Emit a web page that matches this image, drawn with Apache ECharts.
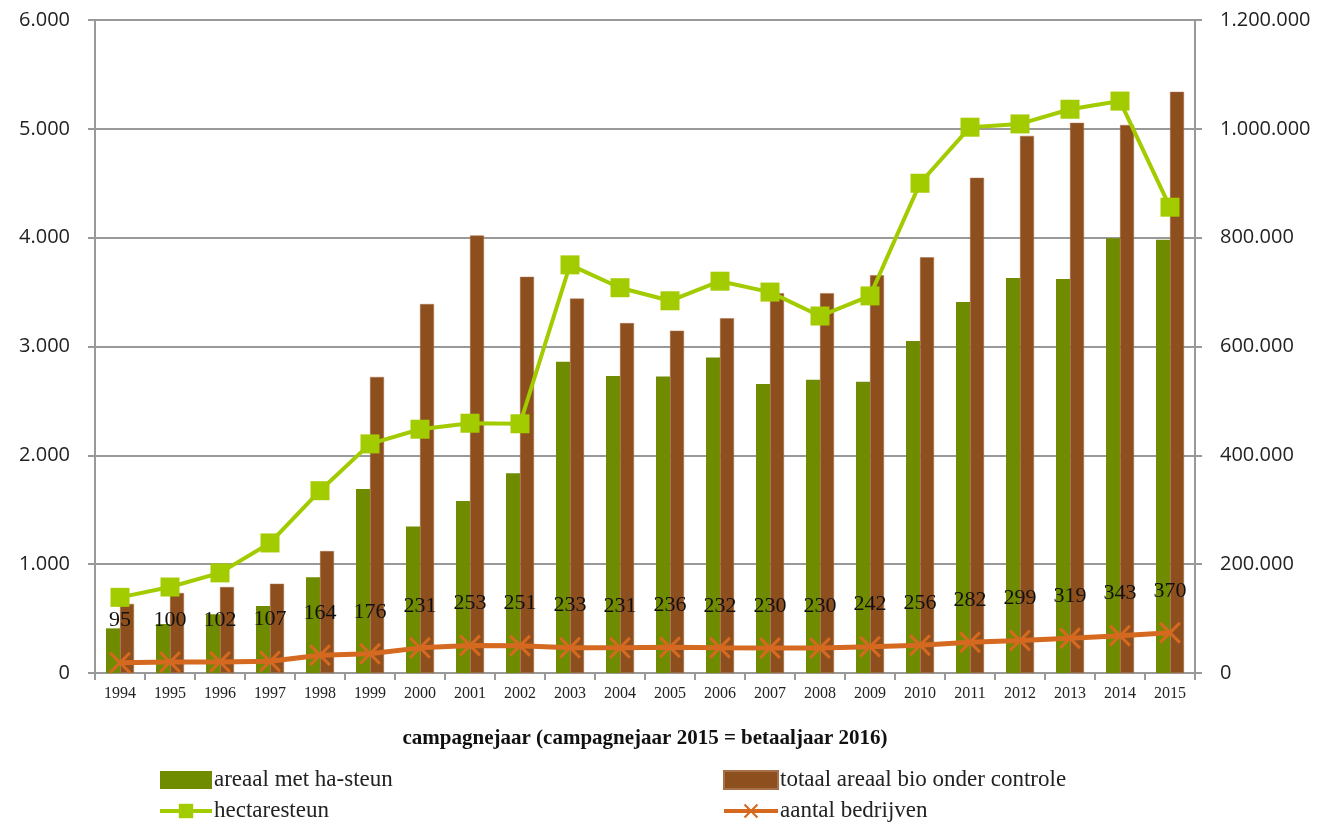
<!DOCTYPE html>
<html>
<head>
<meta charset="utf-8">
<script src="https://cdn.jsdelivr.net/npm/echarts@6/dist/echarts.min.js"></script>
<style>
  html, body { margin: 0; padding: 0; background: #fff; }
  #chart { width: 1341px; height: 826px; }
</style>
</head>
<body>
<div id="chart"></div>
<script>
// campagnejaren
const years = ['1994', '1995', '1996', '1997', '1998', '1999', '2000', '2001', '2002', '2003', '2004',
  '2005', '2006', '2007', '2008', '2009', '2010', '2011', '2012', '2013', '2014', '2015']

// ha, linker as
const areaalHaSteun = [410, 450, 540, 615, 880, 1690, 1345, 1580, 1835, 2860, 2730,
  2725, 2900, 2655, 2695, 2675, 3050, 3410, 3630, 3620, 3995, 3980]
const totaalAreaalBio = [635, 735, 790, 820, 1120, 2720, 3390, 4020, 3640, 3440, 3215,
  3145, 3260, 3490, 3490, 3655, 3820, 4550, 4935, 5055, 5035, 5340]
const aantalBedrijven = [95, 100, 102, 107, 164, 176, 231, 253, 251, 233, 231,
  236, 232, 230, 230, 242, 256, 282, 299, 319, 343, 370]

// euro, rechter as
const hectaresteun = [139000, 158000, 184000, 239000, 335000, 421000, 448000, 459000, 458000, 750000, 708000,
  684000, 720000, 700000, 656000, 693000, 900000, 1003000, 1009000, 1036000, 1051000, 856000]

const leftTicks = { min: 0, max: 6000, interval: 1000 }
const rightTicks = { min: 0, max: 1200000, interval: 200000 }

const dots = v => String(v).replace(/\B(?=(\d{3})+(?!\d))/g, '.')
const slab = "'Liberation Serif', 'DejaVu Serif', serif"
const crossPath = 'path://M0,1 L1,0 L5,4 L9,0 L10,1 L6,5 L10,9 L9,10 L5,6 L1,10 L0,9 L4,5 Z'

const legendText = { fontSize: 23, color: '#222', fontFamily: slab, padding: [0, 0, 0, -3], lineHeight: 24 }

const chart = echarts.init(document.getElementById('chart'))
const option = {
  animation: false,
  textStyle: { fontFamily: slab },
  grid: { left: 95, right: 146, top: 20, bottom: 153 },
  legend: [
    {
      data: [{ name: 'areaal met ha-steun', icon: 'rect' }, 'hectaresteun'],
      orient: 'vertical',
      left: 158, top: 768, padding: 0, height: 60,
      itemWidth: 52, itemHeight: 18, itemGap: 7,
      lineStyle: { width: 4 },
      textStyle: legendText
    },
    {
      data: [{ name: 'totaal areaal bio onder controle', icon: 'rect' }, 'aantal bedrijven'],
      orient: 'vertical',
      left: 722, top: 768, padding: 0, height: 60,
      itemWidth: 54, itemHeight: 18, itemGap: 7,
      lineStyle: { width: 4 },
      textStyle: legendText
    }
  ],
  xAxis: {
    type: 'category',
    data: years,
    name: 'campagnejaar (campagnejaar 2015 = betaaljaar 2016)',
    nameLocation: 'middle',
    nameGap: 55,
    nameTextStyle: { fontSize: 21, fontWeight: 'bold', color: '#111', fontFamily: slab },
    axisLine: { lineStyle: { color: '#999', width: 2 } },
    axisTick: { show: true, length: 7, lineStyle: { color: '#999', width: 2 } },
    axisLabel: { fontSize: 16, color: '#222', margin: 13, fontFamily: slab }
  },
  yAxis: [
    {
      type: 'value',
      ...leftTicks,
      axisLine: { show: true, lineStyle: { color: '#999', width: 2 } },
      axisTick: { show: true, length: 7, lineStyle: { color: '#999', width: 2 } },
      splitLine: { lineStyle: { color: '#999', width: 2 } },
      axisLabel: { fontSize: 20, color: '#222', margin: 25, fontFamily: "'Open Sans', sans-serif", formatter: dots }
    },
    {
      type: 'value',
      ...rightTicks,
      axisLine: { show: true, lineStyle: { color: '#999', width: 2 } },
      axisTick: { show: true, length: 7, lineStyle: { color: '#999', width: 2 } },
      splitLine: { show: false },
      axisLabel: { fontSize: 20, color: '#222', margin: 25, fontFamily: "'Open Sans', sans-serif", formatter: dots }
    }
  ],
  series: [
    {
      name: 'areaal met ha-steun',
      type: 'bar',
      data: areaalHaSteun,
      barWidth: 14,
      barGap: '0%',
      itemStyle: { color: '#6F8C00' }
    },
    {
      name: 'totaal areaal bio onder controle',
      type: 'bar',
      data: totaalAreaalBio,
      barWidth: 14,
      barGap: '0%',
      itemStyle: { color: '#8E4F1E', borderColor: '#A8704A', borderWidth: 0.5 }
    },
    {
      name: 'hectaresteun',
      type: 'line',
      yAxisIndex: 1,
      data: hectaresteun,
      symbol: 'rect',
      symbolSize: 19,
      z: 5,
      lineStyle: { color: '#A2CB00', width: 4 },
      itemStyle: { color: '#A2CB00' }
    },
    {
      name: 'aantal bedrijven',
      type: 'line',
      data: aantalBedrijven,
      symbol: crossPath,
      symbolSize: 22,
      z: 4,
      lineStyle: { color: '#D4691F', width: 5 },
      itemStyle: { color: '#D4691F' },
      label: {
        show: true,
        position: 'top',
        distance: 20,
        fontSize: 22,
        color: '#111',
        fontFamily: slab
      }
    }
  ]
}
chart.setOption(option)
</script>
</body>
</html>
